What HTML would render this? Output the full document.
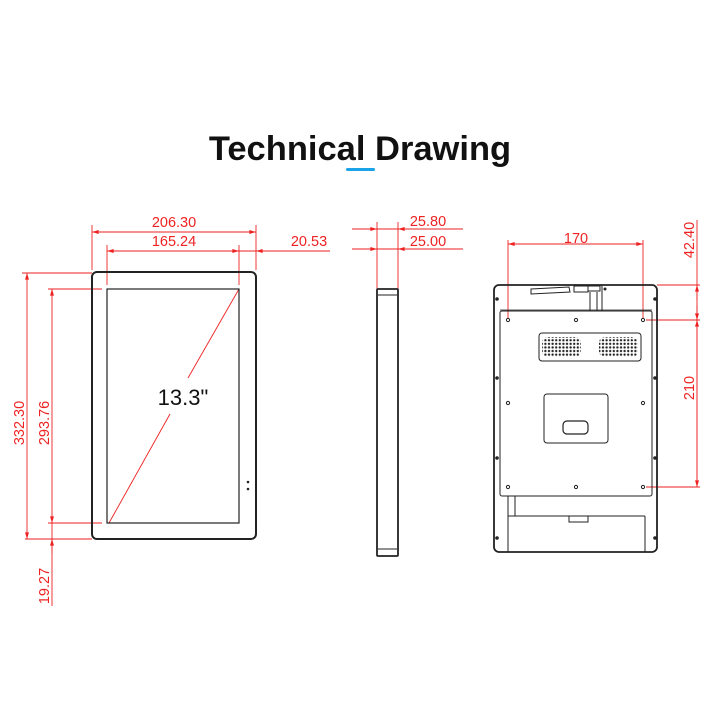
<!DOCTYPE html>
<html><head><style>
html,body{margin:0;padding:0;background:#fff;}
svg{display:block;}
</style></head><body>
<svg width="720" height="720" viewBox="0 0 720 720" xmlns="http://www.w3.org/2000/svg">
<defs>
<pattern id="dots" x="0" y="0" width="3.6" height="3.6" patternUnits="userSpaceOnUse">
<circle cx="1.8" cy="1.8" r="1.15" fill="#222"/>
</pattern>
<marker id="ar" viewBox="0 0 10 6" refX="10" refY="3" markerWidth="10" markerHeight="4" orient="auto-start-reverse" markerUnits="userSpaceOnUse">
<path d="M0,0 L10,3 L0,6 z" fill="#e22"/>
</marker>
</defs>
<text x="360" y="160" text-anchor="middle" font-family="Liberation Sans, sans-serif" font-weight="bold" font-size="34.5" fill="#111">Technical Drawing</text>
<rect x="346" y="168" width="29" height="3" rx="1.5" fill="#1aa3e8"/>

<g stroke="#e22" stroke-width="0.9" fill="none">
<line x1="92" y1="225" x2="92" y2="270"/><line x1="256" y1="225" x2="256" y2="270"/>
<line x1="107" y1="245" x2="107" y2="285"/><line x1="239" y1="245" x2="239" y2="285"/>
<line x1="92" y1="232" x2="256" y2="232" marker-start="url(#ar)" marker-end="url(#ar)"/>
<line x1="107" y1="251" x2="239" y2="251" marker-start="url(#ar)" marker-end="url(#ar)"/>
<line x1="239" y1="251" x2="330" y2="251"/>
<line x1="256" y1="251" x2="270" y2="251" marker-start="url(#ar)"/>
<line x1="22" y1="273" x2="92" y2="273"/><line x1="25" y1="539" x2="92" y2="539"/>
<line x1="48" y1="289" x2="102" y2="289"/><line x1="48" y1="523" x2="102" y2="523"/>
<line x1="27" y1="273" x2="27" y2="539" marker-start="url(#ar)" marker-end="url(#ar)"/>
<line x1="52" y1="289" x2="52" y2="523" marker-start="url(#ar)" marker-end="url(#ar)"/>
<line x1="52" y1="523" x2="52" y2="606"/>
<line x1="52" y1="539" x2="52" y2="553" marker-start="url(#ar)"/>
<line x1="239" y1="289" x2="188" y2="378"/>
<line x1="170" y1="414" x2="109" y2="523"/>
<line x1="377" y1="222" x2="377" y2="289"/><line x1="398" y1="222" x2="398" y2="289"/>
<line x1="352" y1="229" x2="463" y2="229"/><line x1="352" y1="249" x2="463" y2="249"/>
<line x1="362" y1="229" x2="377" y2="229" marker-end="url(#ar)"/>
<line x1="413" y1="229" x2="398" y2="229" marker-end="url(#ar)"/>
<line x1="362" y1="249" x2="377" y2="249" marker-end="url(#ar)"/>
<line x1="413" y1="249" x2="398" y2="249" marker-end="url(#ar)"/>
<line x1="508" y1="240" x2="508" y2="318"/><line x1="643" y1="240" x2="643" y2="318"/>
<line x1="508" y1="244" x2="643" y2="244" marker-start="url(#ar)" marker-end="url(#ar)"/>
<line x1="657" y1="285" x2="700" y2="285"/>
<line x1="646" y1="320" x2="700" y2="320"/>
<line x1="646" y1="487" x2="700" y2="487"/>
<line x1="697" y1="220" x2="697" y2="487"/>
<line x1="697" y1="285" x2="697" y2="300" marker-start="url(#ar)"/>
<line x1="697" y1="305" x2="697" y2="320" marker-end="url(#ar)"/>
<line x1="697" y1="320" x2="697" y2="487" marker-start="url(#ar)" marker-end="url(#ar)"/>
</g>
<g font-family="Liberation Sans, sans-serif" font-size="14.5" fill="#e22">
<text x="174" y="227" text-anchor="middle">206.30</text>
<text x="174" y="246" text-anchor="middle">165.24</text>
<text x="309" y="246" text-anchor="middle">20.53</text>
<text x="428" y="226" text-anchor="middle">25.80</text>
<text x="428" y="246" text-anchor="middle">25.00</text>
<text x="576" y="243" text-anchor="middle">170</text>
<text transform="translate(24,423) rotate(-90)" text-anchor="middle">332.30</text>
<text transform="translate(49,423) rotate(-90)" text-anchor="middle">293.76</text>
<text transform="translate(49,586) rotate(-90)" text-anchor="middle">19.27</text>
<text transform="translate(694,240) rotate(-90)" text-anchor="middle">42.40</text>
<text transform="translate(694,388) rotate(-90)" text-anchor="middle">210</text>
</g>

<g stroke="#222" fill="none">
<rect x="92" y="272" width="164" height="267" rx="5" stroke-width="2"/>
<rect x="107" y="289" width="132" height="234" stroke-width="1.2"/>
<rect x="377" y="289" width="21" height="267" rx="1" stroke-width="1.8"/>
<line x1="378" y1="295" x2="397" y2="295" stroke-width="1"/>
<line x1="378" y1="549" x2="397" y2="549" stroke-width="1"/>
<rect x="494" y="285" width="163" height="267" rx="5" stroke-width="1.8"/>
<rect x="500" y="311" width="152" height="185" rx="2" stroke-width="1"/>
<rect x="539" y="333" width="102" height="28" rx="3" stroke-width="1"/>
<rect x="544" y="394" width="64" height="49" rx="3" stroke-width="1"/>
<rect x="563" y="421" width="25" height="13" rx="4" stroke-width="1.2"/>
<line x1="508" y1="516" x2="645" y2="516" stroke-width="1"/>
<line x1="508" y1="496" x2="508" y2="552" stroke-width="1"/>
<line x1="645" y1="516" x2="645" y2="552" stroke-width="1"/>
<line x1="515" y1="496" x2="515" y2="516" stroke-width="1"/>
<rect x="569" y="516" width="19" height="6" stroke-width="1"/>
<path d="M531,289 L569,287 L570,292 L531,294 z" stroke-width="1"/>
<rect x="574" y="286" width="14" height="6" stroke-width="1"/>
<rect x="588" y="286" width="12" height="5" stroke-width="1"/>
<line x1="590" y1="292" x2="590" y2="311" stroke-width="1"/>
<line x1="597" y1="292" x2="597" y2="311" stroke-width="1"/>
<line x1="602" y1="285" x2="602" y2="311" stroke-width="1"/>
<line x1="500" y1="310" x2="652" y2="310" stroke-width="0.8"/>
</g>
<rect x="542" y="337" width="39" height="20" rx="6" fill="url(#dots)"/>
<rect x="599" y="337" width="39" height="20" rx="6" fill="url(#dots)"/>
<g fill="#222">
<circle cx="248" cy="482" r="1.3"/><circle cx="248" cy="489" r="1.3"/>
<circle cx="605" cy="289" r="1.5"/>
<g fill="#fff" stroke="#222" stroke-width="1">
<circle cx="508" cy="320" r="1.6"/><circle cx="576" cy="320" r="1.6"/><circle cx="643" cy="320" r="1.6"/>
<circle cx="508" cy="403" r="1.6"/><circle cx="643" cy="403" r="1.6"/>
<circle cx="508" cy="487" r="1.6"/><circle cx="576" cy="487" r="1.6"/><circle cx="643" cy="487" r="1.6"/>
</g>
<circle cx="497" cy="299" r="1.8"/><circle cx="655" cy="299" r="1.8"/>
<circle cx="497" cy="378" r="1.8"/><circle cx="655" cy="378" r="1.8"/>
<circle cx="497" cy="458" r="1.8"/><circle cx="655" cy="458" r="1.8"/>
<circle cx="497" cy="538" r="1.8"/><circle cx="655" cy="538" r="1.8"/>
</g>
<text x="183" y="405" text-anchor="middle" font-family="Liberation Sans, sans-serif" font-size="22" fill="#111">13.3"</text>
</svg>
</body></html>
